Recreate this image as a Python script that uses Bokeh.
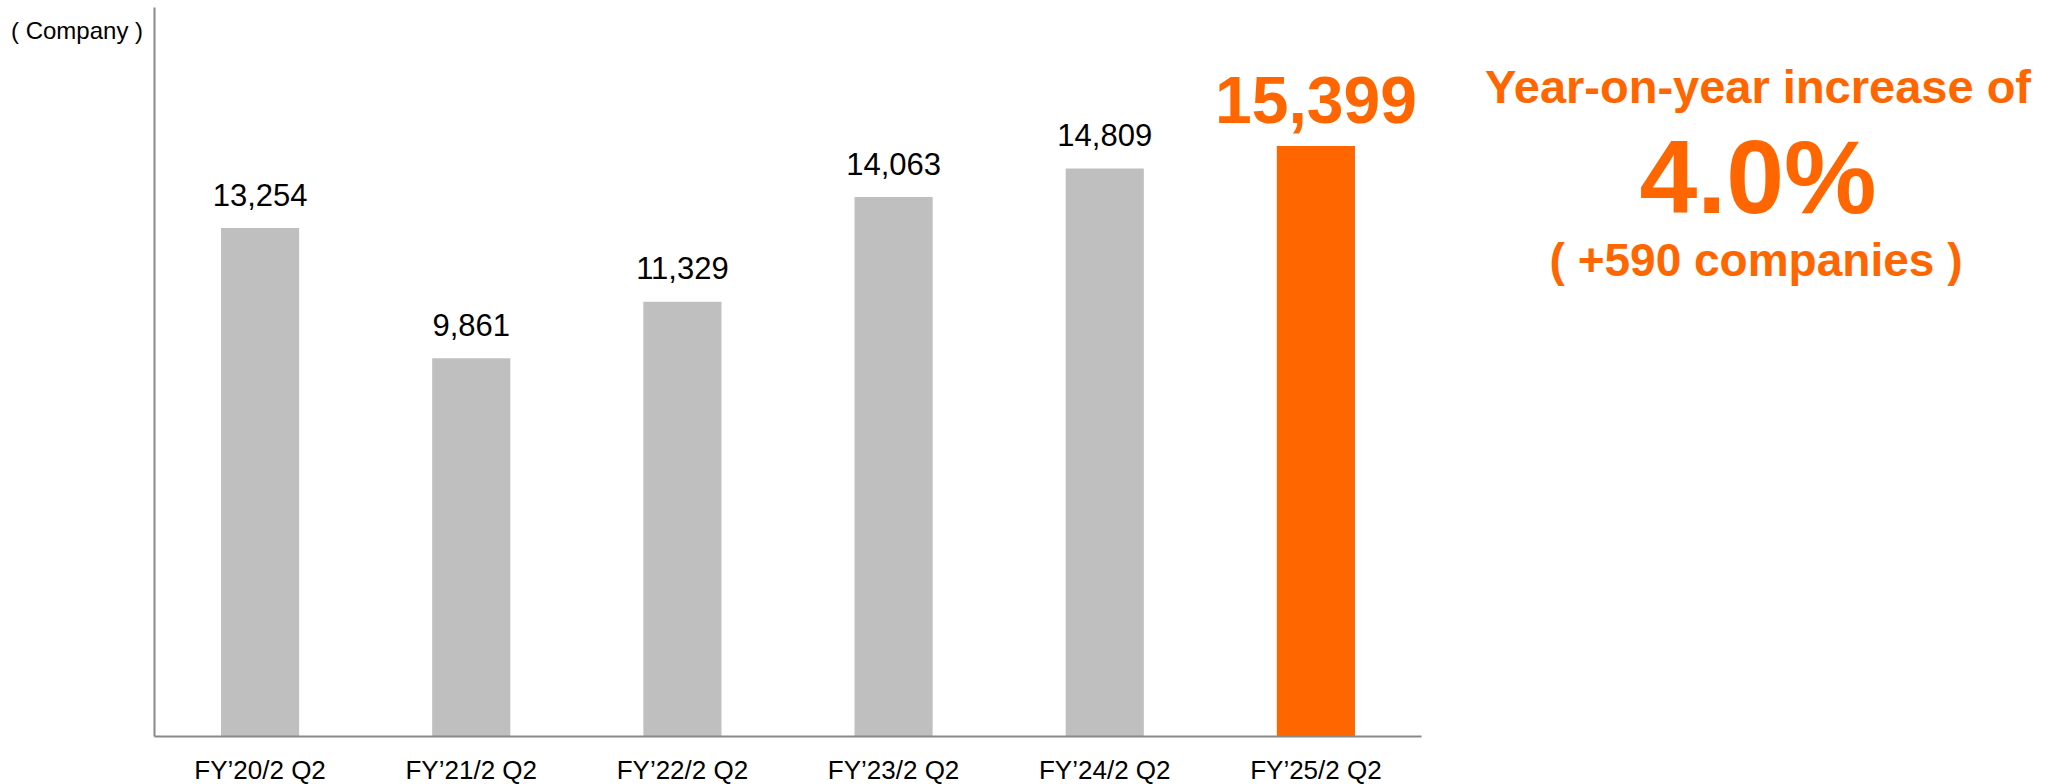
from bokeh.plotting import figure
from bokeh.models import ColumnDataSource, Range1d, Label, FixedTicker, LinearAxis
from bokeh.embed import file_html
from bokeh.resources import INLINE
from bokeh.core.properties import value

# ---- data ----
categories = ["FY’20/2 Q2", "FY’21/2 Q2", "FY’22/2 Q2", "FY’23/2 Q2", "FY’24/2 Q2", "FY’25/2 Q2"]
companies = [13254, 9861, 11329, 14063, 14809, 15399]
unit_label = "( Company )"
yoy_title = "Year-on-year increase of"
yoy_pct = "4.0%"
yoy_abs = "( +590 companies )"

# ---- styles ----
GRAY = "#BFBFBF"
ORANGE = "#FF6600"
AXIS = "#898989"
FONT = "Liberation Sans"

n = len(categories)
pos = list(range(n))
bar_colors = [GRAY] * (n - 1) + [ORANGE]
lab_colors = ["#000000"] * (n - 1) + [ORANGE]
lab_sizes = ["31px"] * (n - 1) + ["66px"]
lab_styles = ["normal"] * (n - 1) + ["bold"]
lab_offsets = [-33.5] * (n - 1) + [-46]

src = ColumnDataSource(dict(
    x=pos,
    val=companies,
    txt=[f"{v:,}" for v in companies],
    color=bar_colors,
    lcolor=lab_colors,
    lsize=lab_sizes,
    lstyle=lab_styles,
    loff=lab_offsets,
))

# ---- layout ----
W, H = 2053, 784
axis_left_px, axis_right_px = 154, 1421
px_per_cat = (axis_right_px - axis_left_px) / n
x_start = -0.5 - axis_left_px / px_per_cat
x_end = (n - 0.5) + (W - axis_right_px) / px_per_cat
zero_px = 735.5          # pixel row (from top) of the value 0
px_per_unit = 0.03832
y_top = zero_px / px_per_unit
y_bottom = y_top - H / px_per_unit

def ydata(px_from_top):
    return (zero_px - px_from_top) / px_per_unit

p = figure(
    x_range=Range1d(x_start, x_end),
    y_range=Range1d(y_bottom, y_top),
    width=W, height=H,
    output_backend="svg", toolbar_location=None,
    x_axis_location=None, y_axis_location=None,
    min_border_left=0, min_border_right=0,
    min_border_top=0, min_border_bottom=0,
)
p.outline_line_color = None
p.background_fill_color = "white"
p.border_fill_color = "white"
p.grid.visible = False

p.vbar(x="x", top="val", bottom=0, width=0.37, color="color", line_color=None, source=src)

p.text(x="x", y="val", text="txt", source=src,
       text_color="lcolor", text_font_size="lsize", text_font_style="lstyle",
       text_font=value(FONT), text_align="center", text_baseline="alphabetic",
       y_offset="loff")

# x axis drawn at value 0, spanning the category slots
xa = LinearAxis(
    fixed_location=0,
    bounds=(-0.5, n - 0.5),
    ticker=FixedTicker(ticks=pos),
    major_label_overrides={i: c for i, c in enumerate(categories)},
    axis_line_color=AXIS, axis_line_width=2,
    major_tick_line_color=None, minor_tick_line_color=None,
    major_label_text_font=FONT, major_label_text_font_size="26px",
    major_label_text_color="#000000", major_label_standoff=13,
)
p.add_layout(xa, "below")

# y axis at the left edge of the first category slot
ya = LinearAxis(
    fixed_location=-0.5,
    bounds=(0, ydata(7.3)),
    ticker=FixedTicker(ticks=[]),
    axis_line_color=AXIS, axis_line_width=2,
    major_tick_line_color=None, minor_tick_line_color=None,
)
p.add_layout(ya, "left")

p.add_layout(Label(x=10.5, x_units="screen", y=ydata(29.9), text=unit_label,
                   text_font=FONT, text_font_size="24px", text_color="#000000",
                   text_align="left", text_baseline="alphabetic"))

cx = 1757.5
p.add_layout(Label(x=cx, x_units="screen", y=ydata(85.7), text=yoy_title,
                   text_font=FONT, text_font_size="47px", text_font_style="bold",
                   text_color=ORANGE, text_align="center", text_baseline="alphabetic"))
p.add_layout(Label(x=cx, x_units="screen", y=ydata(176.5), text=yoy_pct,
                   text_font=FONT, text_font_size="104px", text_font_style="bold",
                   text_color=ORANGE, text_align="center", text_baseline="alphabetic"))
p.add_layout(Label(x=cx - 2, x_units="screen", y=ydata(259.0), text=yoy_abs,
                   text_font=FONT, text_font_size="46px", text_font_style="bold",
                   text_color=ORANGE, text_align="center", text_baseline="alphabetic"))

open("out.html", "w").write(file_html(p, INLINE))
